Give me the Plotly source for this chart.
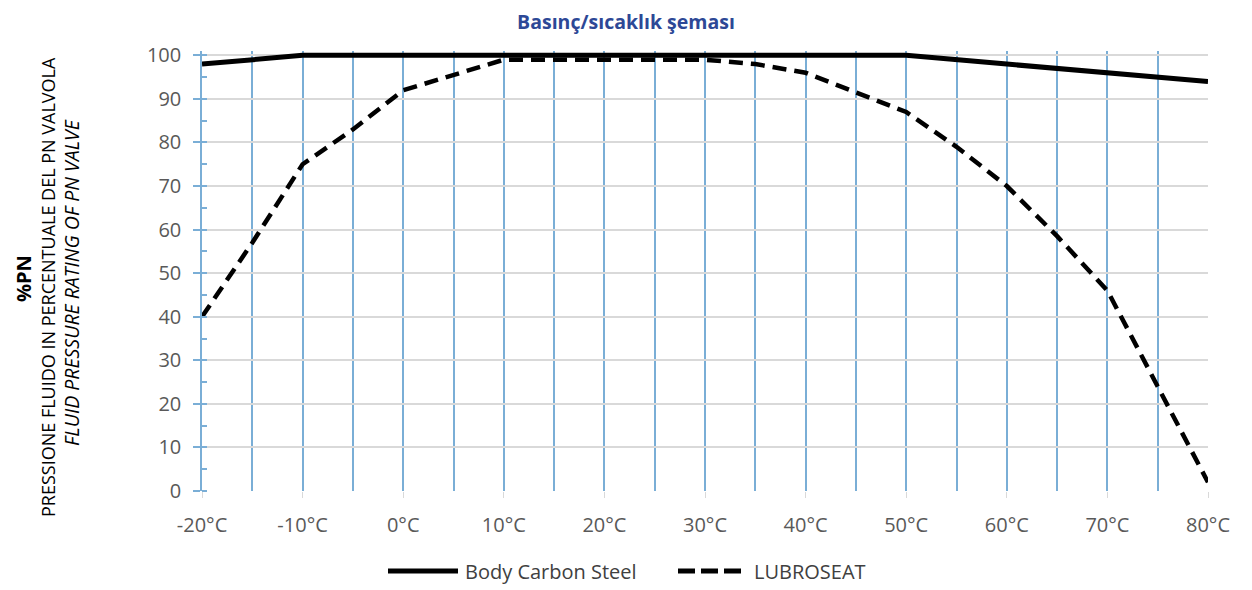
import plotly.graph_objects as go

temps = [-20, -15, -10, -5, 0, 5, 10, 15, 20, 25, 30, 35, 40, 45, 50, 55, 60, 65, 70, 75, 80]
body_temps = [-20, -10, 0, 10, 20, 30, 40, 50, 60, 70, 80]
body_carbon_steel = [98, 100, 100, 100, 100, 100, 100, 100, 98, 96, 94]
lubroseat = [40, 57, 75, 83, 92, 95.5, 99, 99, 99, 99, 99, 98, 96, 91.5, 87, 79, 70, 58.5, 46, 24, 2]
tick_vals = [-20, -10, 0, 10, 20, 30, 40, 50, 60, 70, 80]
tick_text = [f"{v}°C" for v in tick_vals]
series_names = ["Body Carbon Steel", "LUBROSEAT"]

FONT = "Open Sans"
GRAY = "#595959"
BLUE = "#7aaed6"

# plot area in pixels (figure coords): x 202..1208, y 51..491
PL, PR, PT, PB = 202, 1208, 51, 491
BODY = 8  # default page body margin offset
PW, PH = PR - PL, PB - PT


def px(x):
    return (x - PL) / PW


def py(y):
    return (PB - y) / PH


fig = go.Figure()
fig.add_trace(go.Scatter(x=body_temps, y=body_carbon_steel, mode="lines",
                         name=series_names[0], showlegend=False,
                         line=dict(color="#000000", width=5)))
fig.add_trace(go.Scatter(x=temps, y=lubroseat, mode="lines", name=series_names[1],
                         showlegend=False,
                         line=dict(color="#000000", width=4.5, dash="14px,8px")))

fig.update_layout(
    width=1252, height=590,
    margin=dict(l=PL - BODY, r=1252 - PR + BODY, t=PT - BODY, b=590 - PB + BODY),
    paper_bgcolor="white", plot_bgcolor="white",
    title=dict(text="<b>Basınç/sıcaklık şeması</b>", x=(626 - BODY) / 1252, xref="container",
               xanchor="center", y=1 - 14 / 590, yref="container", yanchor="middle",
               font=dict(family=FONT, size=19.5, color="#2d4896")),
    showlegend=False,
)

fig.update_xaxes(
    range=[-20, 80], tickvals=tick_vals, ticktext=tick_text,
    showgrid=True, gridcolor=BLUE, gridwidth=1.5,
    minor=dict(dtick=5, showgrid=True, gridcolor=BLUE, gridwidth=1.5, ticks=""),
    zeroline=False, showline=False,
    ticks="outside", ticklen=6, tickcolor="#d9d9d9", tickwidth=1,
    ticklabelstandoff=10,
    tickfont=dict(family=FONT, size=20, color=GRAY),
)
fig.update_yaxes(
    range=[0, 101], tickvals=[0, 10, 20, 30, 40, 50, 60, 70, 80, 90, 100],
    showgrid=True, gridcolor="#d9d9d9", gridwidth=1.5,
    zeroline=False, showline=True, linecolor=BLUE, linewidth=1.5,
    ticks="outside", ticklen=7, tickcolor=BLUE, tickwidth=1.5,
    minor=dict(dtick=5, ticks="inside", ticklen=5, tickcolor=BLUE, showgrid=False),
    ticklabelstandoff=8,
    tickfont=dict(family=FONT, size=20, color=GRAY),
)

# axis titles
fig.add_annotation(text="<b>%PN</b>", x=px(23), y=py(279), xref="paper", yref="paper",
                   xanchor="center", yanchor="middle", textangle=-90, showarrow=False,
                   font=dict(family=FONT, size=20, color="#000000"))
fig.add_annotation(text="PRESSIONE FLUIDO IN PERCENTUALE DEL PN VALVOLA",
                   x=px(48), y=py(287), xref="paper", yref="paper", textangle=-90,
                   xanchor="center", yanchor="middle", showarrow=False,
                   font=dict(family=FONT, size=18, color="#000000"))
fig.add_annotation(text="<i>FLUID PRESSURE RATING OF PN VALVE</i>",
                   x=px(71), y=py(283), xref="paper", yref="paper", textangle=-90,
                   xanchor="center", yanchor="middle", showarrow=False,
                   font=dict(family=FONT, size=19.5, color="#000000"))

# legend (drawn below the plot)
leg_y = py(571)
legend_items = [
    (series_names[0], 388, 458, 463, "solid", 5),
    (series_names[1], 678, 743, 752, "17px,6px", 5),
]
for name, x0, x1, tx, dash, w in legend_items:
    fig.add_shape(type="line", xref="paper", yref="paper",
                  x0=px(x0), x1=px(x1), y0=leg_y, y1=leg_y,
                  line=dict(color="#000000", width=w, dash=dash))
    fig.add_annotation(text=name, x=px(tx), y=leg_y, xref="paper", yref="paper",
                       xanchor="left", yanchor="middle", showarrow=False,
                       font=dict(family=FONT, size=20, color="#404040"))

fig.write_html("out.html")
